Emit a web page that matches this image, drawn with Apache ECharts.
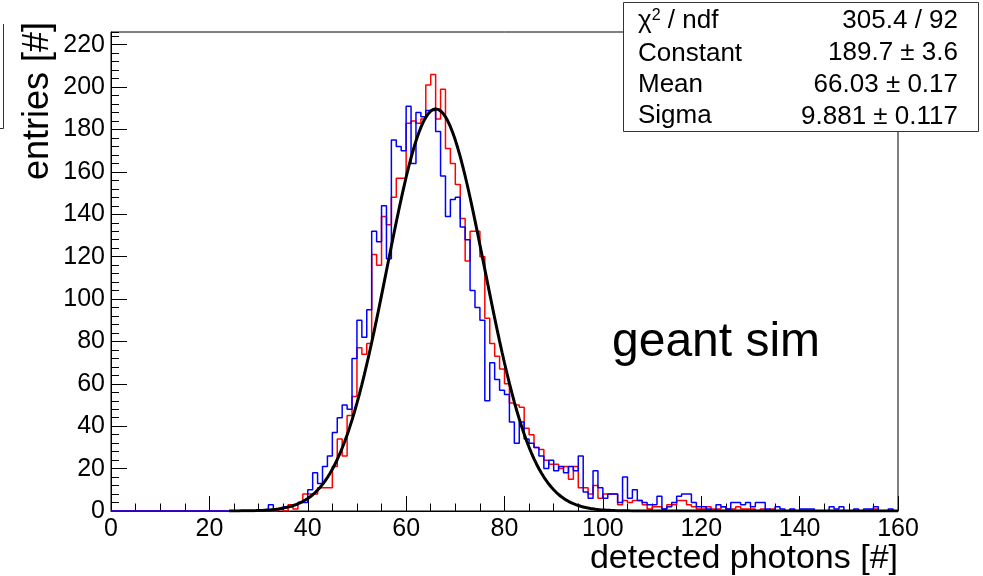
<!DOCTYPE html>
<html><head><meta charset="utf-8">
<script src="https://cdn.jsdelivr.net/npm/echarts@6/dist/echarts.min.js"></script>
<style>html,body{margin:0;padding:0;background:#fff}#c{width:983px;height:576px}</style>
</head><body><div id="c"></div>
<script>
// histogram: 160 bins of width 1 starting at 0
const binStart = 0;
const binWidth = 1;
const redCounts = [
  0,0,0,0,0,0,0,0,0,0,
  0,0,0,0,0,0,0,0,0,0,
  0,0,0,0,0,0,0,0,0,0,
  0,0,0,0,1,0,3,1,4,8,
  8,8,11,11,11,21,34,26,45,54,
  77,74,79,121,116,139,135,148,157,157,
  183,184,183,185,201,206,185,199,171,164,
  154,138,118,132,132,120,91,79,73,67,
  60,51,50,49,39,36,30,29,24,22,
  22,20,21,15,21,11,11,8,12,6,
  8,8,8,3,5,4,5,5,3,1,
  2,2,1,3,3,5,5,3,2,1,
  1,2,1,1,2,1,1,2,1,1,
  1,0,1,0,1,0,0,0,0,0,
  0,0,0,0,0,0,0,0,0,0,
  0,0,0,0,0,1,0,0,0,0
];
const blueCounts = [
  0,0,0,0,0,0,0,0,0,0,
  0,0,0,0,0,0,0,0,0,0,
  0,0,0,0,0,0,0,0,0,0,
  0,0,3,1,1,2,2,3,4,4,
  10,18,13,21,26,37,44,50,48,72,
  90,82,95,132,127,144,119,175,172,170,
  191,164,188,186,189,189,179,158,139,147,
  148,134,128,104,96,90,52,70,62,57,
  55,42,32,42,34,32,30,26,20,24,
  19,21,18,21,19,26,9,6,19,11,
  6,8,8,4,16,6,10,5,4,3,
  3,7,1,2,4,7,8,8,4,2,
  2,1,0,3,2,1,4,4,3,4,
  2,4,4,1,0,2,1,0,1,0,
  1,1,1,0,0,0,2,1,2,0,
  0,1,0,1,1,2,0,0,1,0
];
// Gaussian fit parameters as printed in the stats box
const fitConstant = 189.7;
const fitMean = 66.03;
const fitSigma = 9.881;
const fitRange = [24, 160];
const statLabels = ['Constant', 'Mean', 'Sigma'];
const statValues = ['305.4 / 92', '189.7 ± 3.6', '66.03 ± 0.17', '9.881 ± 0.117'];
const xTitle = 'detected photons [#]';
const yTitle = 'entries [#]';
const annotation = 'geant sim';

function histSteps(counts) {
  const d = counts.map((v, i) => [binStart + i * binWidth, v]);
  d.push([binStart + counts.length * binWidth, counts[counts.length - 1]]);
  return d;
}
function fitCurve() {
  const pts = [];
  for (let x = fitRange[0]; x <= fitRange[1] + 1e-9; x += 0.5) {
    const z = (x - fitMean) / fitSigma;
    pts.push([x, fitConstant * Math.exp(-0.5 * z * z)]);
  }
  return pts;
}

const FONT = "'Liberation Sans', Arial, Helvetica, sans-serif";
const chart = echarts.init(document.getElementById('c'), null, {renderer: 'canvas'});

const statsGraphic = [
  {type: 'rect', shape: {x: 623.5, y: 2.5, width: 355, height: 129}, style: {fill: '#fff', stroke: '#333', lineWidth: 1}, z: 10},
  {type: 'text', x: 638, y: 21, z: 11, style: {text: '{a|χ}{b|2}{a| / ndf}', rich: {a: {fontSize: 26, fontFamily: FONT, fill: '#000'}, b: {fontSize: 16, fontFamily: FONT, fill: '#000', verticalAlign: 'top'}}, verticalAlign: 'middle', align: 'left'}}
];
statLabels.forEach((t, i) => {
  statsGraphic.push({type: 'text', x: 638, y: 54 + i * 31, z: 11, style: {text: t, font: '26px ' + FONT, fill: '#000', align: 'left', verticalAlign: 'middle'}});
});
statValues.forEach((t, i) => {
  statsGraphic.push({type: 'text', x: 958, y: 21 + i * 32, z: 11, style: {text: t, font: '26px ' + FONT, fill: '#000', align: 'right', verticalAlign: 'middle'}});
});

chart.setOption({
  animation: false,
  backgroundColor: '#fff',
  grid: {left: 111, right: 85, top: 32, bottom: 65, show: true, borderColor: '#000', borderWidth: 1, backgroundColor: 'transparent'},
  xAxis: {
    type: 'value', min: 0, max: 160, interval: 20,
    axisLine: {show: true, lineStyle: {color: '#000', width: 1}},
    axisTick: {show: true, inside: true, length: 15, lineStyle: {color: '#000'}},
    minorTick: {show: true, splitNumber: 4, length: 7.5, lineStyle: {color: '#000'}},
    splitLine: {show: false},
    axisLabel: {fontSize: 25, fontFamily: FONT, color: '#000', margin: 6}
  },
  yAxis: [{
    type: 'value', min: 0, max: 226, interval: 20,
    axisLine: {show: true, lineStyle: {color: '#000', width: 1}},
    axisTick: {show: true, inside: true, length: 16, lineStyle: {color: '#000'}},
    splitLine: {show: false},
    axisLabel: {fontSize: 25, fontFamily: FONT, color: '#000', margin: 6, showMaxLabel: false,
      formatter: v => (v % 20 === 0 ? String(v) : '')}
  }, {
    type: 'value', min: 0, max: 226, interval: 4, position: 'left',
    axisLine: {show: false},
    axisTick: {show: true, inside: true, length: 8, lineStyle: {color: '#000'}},
    splitLine: {show: false},
    axisLabel: {show: false}
  }],
  series: [
    {type: 'line', step: 'end', data: histSteps(redCounts), showSymbol: false, lineStyle: {color: '#ff0000', width: 1.5}, itemStyle: {color: '#ff0000'}, silent: true},
    {type: 'line', step: 'end', data: histSteps(blueCounts), showSymbol: false, lineStyle: {color: '#0000ff', width: 1.5}, itemStyle: {color: '#0000ff'}, silent: true},
    {type: 'line', data: fitCurve(), showSymbol: false, lineStyle: {color: '#000', width: 3}, itemStyle: {color: '#000'}, silent: true}
  ],
  graphic: [
    {type: 'polyline', shape: {points: [[0, 128.5], [3.5, 128.5], [3.5, 24]]}, style: {stroke: '#333', lineWidth: 1, fill: null}},
    {type: 'text', x: 38, y: 22, rotation: Math.PI / 2, style: {text: yTitle, font: '36px ' + FONT, fill: '#000', align: 'right', verticalAlign: 'middle'}},
    {type: 'text', x: 898, y: 559, style: {text: xTitle, font: '34px ' + FONT, fill: '#000', align: 'right', verticalAlign: 'middle'}},
    {type: 'text', x: 612, y: 343, style: {text: annotation, font: '48px ' + FONT, fill: '#000', align: 'left', verticalAlign: 'middle'}}
  ].concat(statsGraphic)
});
</script></body></html>
